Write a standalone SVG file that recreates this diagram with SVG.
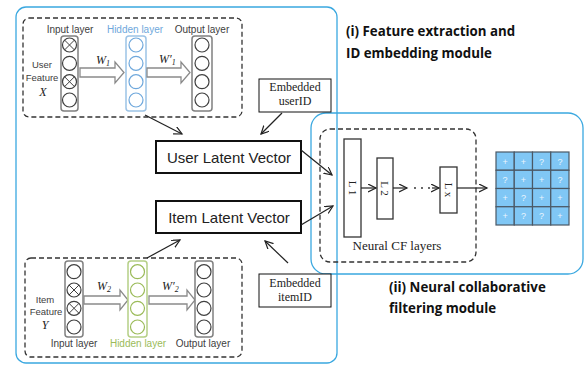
<svg xmlns="http://www.w3.org/2000/svg" width="587" height="365" viewBox="0 0 587 365">
  <defs>
    <marker id="open-arrow" markerUnits="userSpaceOnUse" markerWidth="10" markerHeight="10" refX="8" refY="4" orient="auto">
      <path d="M0,0 L8,4 L0,8" fill="none" stroke="#222" stroke-width="1.2"/>
    </marker>
    <style>
      .module { fill: none; stroke: #3aa8e0; stroke-width: 1.3; }
      .dashbox { fill: none; stroke: #333; stroke-width: 1.3; stroke-dasharray: 5 3; }
      .col { fill: #fff; stroke: #808080; stroke-width: 1.5; }
      .node { fill: #fff; stroke: #404040; stroke-width: 1.2; }
      .node-blue { fill: #fff; stroke: #6fa8dc; stroke-width: 1.2; }
      .node-green { fill: #fff; stroke: #9bbb59; stroke-width: 1.2; }
      .col-blue { fill: #fff; stroke: #9cc3e6; stroke-width: 1.5; }
      .col-green { fill: #fff; stroke: #b5cf86; stroke-width: 1.5; }
      .cross { stroke: #404040; stroke-width: 1; }
      .block { fill: #fff; stroke: #8a8a8a; stroke-width: 1.3; }
      .lbl { font-family: "Liberation Sans", Arial, sans-serif; font-size: 10px; fill: #404040; text-anchor: middle; }
      .side { font-family: "Liberation Sans", Arial, sans-serif; font-size: 9.5px; fill: #404040; text-anchor: middle; }
      .wt { font-family: "Liberation Serif", "Times New Roman", serif; font-style: italic; font-size: 12px; fill: #222; }
      .sub { font-size: 8px; }
      .vecbox { fill: #fff; stroke: #111; stroke-width: 2; }
      .vec { font-family: "Liberation Sans", Arial, sans-serif; font-size: 15px; fill: #222; text-anchor: middle; }
      .embox { fill: #fff; stroke: #111; stroke-width: 1; }
      .em { font-family: "Liberation Serif", "Times New Roman", serif; font-size: 12px; fill: #222; text-anchor: middle; }
      .layer { fill: #fff; stroke: #333; stroke-width: 1.3; }
      .lt { font-family: "Liberation Serif", "Times New Roman", serif; font-size: 11px; fill: #222; text-anchor: middle; }
      .title { font-family: "Open Sans", "Liberation Sans", sans-serif; font-weight: bold; font-size: 13.3px; fill: #111; }
      .conn { fill: none; stroke: #222; stroke-width: 1.2; }
      .cell { fill: #80c7f5; stroke: #4a5865; stroke-width: 1.2; }
      .sym { font-family: "Liberation Sans", Arial, sans-serif; font-size: 9px; fill: #eaf5fd; text-anchor: middle; }
    </style>
  </defs>

  <!-- module outlines -->
  <rect class="module" x="16" y="7" width="321" height="356" rx="10"/>
  <rect class="module" x="311" y="113" width="272" height="161" rx="15"/>

  <!-- user autoencoder -->
  <g id="user-autoencoder">
    <rect class="dashbox" x="23" y="18" width="219" height="99" rx="6"/>
    <text class="lbl" x="70" y="33">Input layer</text>
    <text class="lbl" x="135" y="33" style="fill:#6fa8dc">Hidden layer</text>
    <text class="lbl" x="202" y="33">Output layer</text>
    <text class="side" x="42" y="68">User</text>
    <text class="side" x="42" y="81">Feature</text>
    <text class="wt" x="43" y="96" text-anchor="middle">X</text>
    <rect class="col" x="61" y="36" width="17" height="75" rx="3"/>
    <circle class="node" cx="69.5" cy="45" r="7"/>
    <circle class="node" cx="69.5" cy="63.3" r="7"/>
    <circle class="node" cx="69.5" cy="81.7" r="7"/>
    <circle class="node" cx="69.5" cy="100" r="7"/>
    <path class="cross" d="M64.5,40 L74.5,50 M74.5,40 L64.5,50 M64.5,76.7 L74.5,86.7 M74.5,76.7 L64.5,86.7"/>
    <path class="block" d="M80,68 L115,68 L115,62 L124,72.5 L115,83 L115,77 L80,77 Z"/>
    <text class="wt" x="96" y="64">W<tspan class="sub" dy="2">1</tspan></text>
    <rect class="col-blue" x="126" y="36" width="20" height="75" rx="3"/>
    <circle class="node-blue" cx="136" cy="45" r="7"/>
    <circle class="node-blue" cx="136" cy="63.3" r="7"/>
    <circle class="node-blue" cx="136" cy="81.7" r="7"/>
    <circle class="node-blue" cx="136" cy="100" r="7"/>
    <path class="block" d="M147,68 L181,68 L181,62 L190,72.5 L181,83 L181,77 L147,77 Z"/>
    <text class="wt" x="159" y="63">W′<tspan class="sub" dy="2">1</tspan></text>
    <rect class="col" x="192" y="36" width="20" height="75" rx="3"/>
    <circle class="node" cx="202" cy="45" r="7"/>
    <circle class="node" cx="202" cy="63.3" r="7"/>
    <circle class="node" cx="202" cy="81.7" r="7"/>
    <circle class="node" cx="202" cy="100" r="7"/>
  </g>

  <!-- item autoencoder -->
  <g id="item-autoencoder">
    <rect class="dashbox" x="25" y="258" width="217" height="99" rx="6"/>
    <text class="lbl" x="74" y="347">Input layer</text>
    <text class="lbl" x="138" y="347" style="fill:#9bbb59">Hidden layer</text>
    <text class="lbl" x="203" y="347">Output layer</text>
    <text class="side" x="45" y="303">Item</text>
    <text class="side" x="46" y="315">Feature</text>
    <text class="wt" x="45" y="329" text-anchor="middle">Y</text>
    <rect class="col" x="65" y="261" width="18" height="76" rx="3"/>
    <circle class="node" cx="74" cy="271.7" r="7"/>
    <circle class="node" cx="74" cy="290" r="7"/>
    <circle class="node" cx="74" cy="308.3" r="7"/>
    <circle class="node" cx="74" cy="327" r="7"/>
    <path class="cross" d="M69,285 L79,295 M79,285 L69,295 M69,303.3 L79,313.3 M79,303.3 L69,313.3"/>
    <path class="block" d="M84,296 L120,296 L120,290 L128,300 L120,310 L120,304 L84,304 Z"/>
    <text class="wt" x="97" y="290">W<tspan class="sub" dy="2">2</tspan></text>
    <rect class="col-green" x="128" y="261" width="19" height="76" rx="3"/>
    <circle class="node-green" cx="137.5" cy="271.7" r="7"/>
    <circle class="node-green" cx="137.5" cy="290" r="7"/>
    <circle class="node-green" cx="137.5" cy="308.3" r="7"/>
    <circle class="node-green" cx="137.5" cy="327" r="7"/>
    <path class="block" d="M149,296 L187,296 L187,290 L195,300 L187,310 L187,304 L149,304 Z"/>
    <text class="wt" x="162" y="290">W′<tspan class="sub" dy="2">2</tspan></text>
    <rect class="col" x="195" y="261" width="18" height="76" rx="3"/>
    <circle class="node" cx="204" cy="271.7" r="7"/>
    <circle class="node" cx="204" cy="290" r="7"/>
    <circle class="node" cx="204" cy="308.3" r="7"/>
    <circle class="node" cx="204" cy="327" r="7"/>
  </g>

  <g id="user-latent-vector">
    <rect class="vecbox" x="156" y="141" width="145" height="32"/>
    <text class="vec" x="229" y="163">User Latent Vector</text>
  </g>
  <g id="item-latent-vector">
    <rect class="vecbox" x="156" y="201" width="145" height="32"/>
    <text class="vec" x="229" y="223">Item Latent Vector</text>
  </g>

  <g id="embedded-userid">
    <rect class="embox" x="259" y="79" width="72" height="33"/>
    <text class="em" x="295" y="91">Embedded</text>
    <text class="em" x="295" y="105">userID</text>
  </g>
  <g id="embedded-itemid">
    <rect class="embox" x="259" y="274" width="72" height="33"/>
    <text class="em" x="295" y="287">Embedded</text>
    <text class="em" x="295" y="301">itemID</text>
  </g>

  <!-- neural CF layers -->
  <g id="neural-cf-layers">
    <rect class="dashbox" x="320" y="129" width="156" height="133" rx="10"/>
    <text x="397" y="250" style="font-family:'Liberation Serif','Times New Roman',serif;font-size:13px;fill:#222" text-anchor="middle">Neural CF layers</text>
  </g>
  <g id="layer-l1">
    <rect class="layer" x="344" y="139" width="17" height="98"/>
    <text class="lt" transform="translate(352.5,188) rotate(90)" y="4">L 1</text>
  </g>
  <g id="layer-l2">
    <rect class="layer" x="377" y="158" width="16" height="61"/>
    <text class="lt" transform="translate(385,188.5) rotate(90)" y="4">L 2</text>
  </g>
  <g id="layer-lx">
    <rect class="layer" x="440" y="167" width="17" height="46"/>
    <text class="lt" transform="translate(448.5,190) rotate(90)" y="4">L x</text>
  </g>

  <!-- rating matrix -->
  <g id="rating-matrix">
    <rect class="cell" x="496" y="152" width="18.25" height="18.25"/>
    <rect class="cell" x="514.25" y="152" width="18.25" height="18.25"/>
    <rect class="cell" x="532.5" y="152" width="18.25" height="18.25"/>
    <rect class="cell" x="550.75" y="152" width="18.25" height="18.25"/>
    <rect class="cell" x="496" y="170.25" width="18.25" height="18.25"/>
    <rect class="cell" x="514.25" y="170.25" width="18.25" height="18.25"/>
    <rect class="cell" x="532.5" y="170.25" width="18.25" height="18.25"/>
    <rect class="cell" x="550.75" y="170.25" width="18.25" height="18.25"/>
    <rect class="cell" x="496" y="188.5" width="18.25" height="18.25"/>
    <rect class="cell" x="514.25" y="188.5" width="18.25" height="18.25"/>
    <rect class="cell" x="532.5" y="188.5" width="18.25" height="18.25"/>
    <rect class="cell" x="550.75" y="188.5" width="18.25" height="18.25"/>
    <rect class="cell" x="496" y="206.75" width="18.25" height="18.25"/>
    <rect class="cell" x="514.25" y="206.75" width="18.25" height="18.25"/>
    <rect class="cell" x="532.5" y="206.75" width="18.25" height="18.25"/>
    <rect class="cell" x="550.75" y="206.75" width="18.25" height="18.25"/>
    <text class="sym" x="505.1" y="164.5">+</text>
    <text class="sym" x="523.4" y="164.5">+</text>
    <text class="sym" x="541.6" y="164.5">?</text>
    <text class="sym" x="559.9" y="164.5">?</text>
    <text class="sym" x="505.1" y="182.7">?</text>
    <text class="sym" x="523.4" y="182.7">+</text>
    <text class="sym" x="541.6" y="182.7">+</text>
    <text class="sym" x="559.9" y="182.7">?</text>
    <text class="sym" x="505.1" y="201">+</text>
    <text class="sym" x="523.4" y="201">?</text>
    <text class="sym" x="541.6" y="201">+</text>
    <text class="sym" x="559.9" y="201">+</text>
    <text class="sym" x="505.1" y="219.2">+</text>
    <text class="sym" x="523.4" y="219.2">?</text>
    <text class="sym" x="541.6" y="219.2">?</text>
    <text class="sym" x="559.9" y="219.2">+</text>
  </g>

  <!-- connectors -->
  <g id="connectors">
    <line class="conn" x1="145" y1="115" x2="182" y2="134" marker-end="url(#open-arrow)"/>
    <line class="conn" x1="282" y1="113" x2="261" y2="134" marker-end="url(#open-arrow)"/>
    <line class="conn" x1="147" y1="258" x2="180" y2="240" marker-end="url(#open-arrow)"/>
    <line class="conn" x1="288" y1="263" x2="265" y2="241" marker-end="url(#open-arrow)"/>
    <line class="conn" x1="301" y1="150" x2="332" y2="175" marker-end="url(#open-arrow)"/>
    <line class="conn" x1="301" y1="225" x2="333" y2="206" marker-end="url(#open-arrow)"/>
    <line class="conn" x1="361" y1="188" x2="376" y2="188" marker-end="url(#open-arrow)"/>
    <line class="conn" x1="393" y1="188" x2="407" y2="188" marker-end="url(#open-arrow)"/>
    <circle cx="415" cy="188" r="0.9" fill="#222"/>
    <circle cx="422" cy="188" r="0.9" fill="#222"/>
    <circle cx="429" cy="188" r="0.9" fill="#222"/>
    <line class="conn" x1="432" y1="188" x2="439" y2="188" marker-end="url(#open-arrow)"/>
    <line class="conn" x1="457" y1="188" x2="487" y2="188" marker-end="url(#open-arrow)"/>
  </g>

  <!-- module captions -->
  <text class="title" x="346" y="36">(i) Feature extraction and</text>
  <text class="title" x="346" y="58">ID embedding module</text>
  <text class="title" x="389" y="292">(ii) Neural collaborative</text>
  <text class="title" x="389" y="313">filtering module</text>
</svg>
